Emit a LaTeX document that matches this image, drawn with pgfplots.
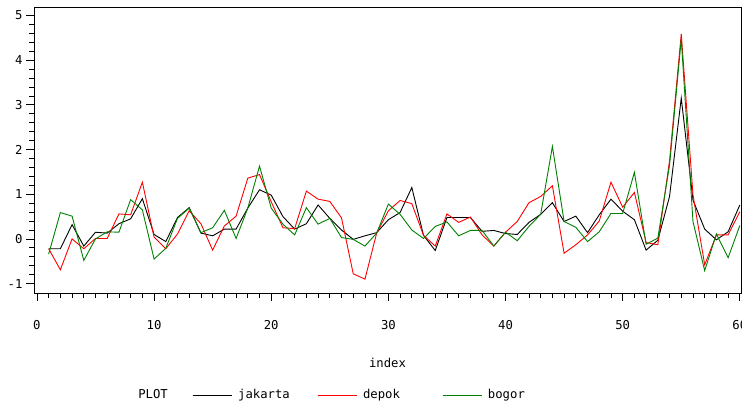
\documentclass[border=0pt]{standalone}
\usepackage{pgfplots}
\pgfplotsset{compat=1.18}
\usepackage{pgfplotstable}
\usepackage{fontspec}
\setmainfont{DejaVu Sans Mono}
\pgfplotstableread{
idx jakarta depok bogor
1 -0.22 -0.22 -0.34
2 -0.22 -0.69 0.59
3 0.32 0.00 0.51
4 -0.16 -0.22 -0.48
5 0.15 0.01 0.00
6 0.13 0.01 0.16
7 0.34 0.56 0.15
8 0.45 0.54 0.88
9 0.90 1.27 0.65
10 0.10 0.04 -0.45
11 -0.06 -0.22 -0.21
12 0.48 0.11 0.46
13 0.70 0.63 0.69
14 0.13 0.34 0.14
15 0.07 -0.25 0.25
16 0.22 0.29 0.64
17 0.22 0.51 0.01
18 0.69 1.36 0.69
19 1.10 1.44 1.63
20 0.98 0.83 0.69
21 0.50 0.25 0.33
22 0.22 0.23 0.09
23 0.34 1.07 0.70
24 0.76 0.89 0.33
25 0.46 0.84 0.46
26 0.20 0.47 0.03
27 -0.01 -0.78 -0.01
28 0.07 -0.90 -0.16
29 0.14 0.13 0.13
30 0.43 0.63 0.78
31 0.59 0.86 0.55
32 1.15 0.79 0.20
33 0.08 0.08 0.01
34 -0.26 -0.16 0.28
35 0.48 0.56 0.38
36 0.48 0.37 0.07
37 0.48 0.49 0.19
38 0.17 0.09 0.19
39 0.19 -0.16 -0.16
40 0.12 0.15 0.15
41 0.10 0.39 -0.04
42 0.37 0.81 0.28
43 0.55 0.95 0.55
44 0.81 1.19 2.07
45 0.39 -0.32 0.39
46 0.51 -0.13 0.26
47 0.14 0.09 -0.06
48 0.54 0.40 0.16
49 0.89 1.27 0.57
50 0.62 0.71 0.57
51 0.43 1.04 1.49
52 -0.25 -0.08 -0.12
53 -0.03 -0.13 0.02
54 0.95 1.75 1.65
55 3.15 4.59 4.47
56 0.87 0.99 0.39
57 0.22 -0.58 -0.71
58 -0.02 0.09 0.11
59 0.16 0.09 -0.42
60 0.76 0.61 0.30
}\datatable
\definecolor{sasgreen}{RGB}{0,128,0}
\begin{document}
\begin{tikzpicture}[font=\fontsize{12.3}{14}\selectfont]
\begin{axis}[
  name=ax,
  scale only axis,
  width=707bp, height=286bp,
  xmin=-0.25, xmax=60.1,
  ymin=-1.21, ymax=5.19,
  axis line style={line width=0.8bp},
  xtick={0,10,...,60},
  minor xtick={0,1,...,60},
  ytick={-1,0,...,5},
  minor ytick={-1,-0.8,...,5},
  tick align=outside,
  xtick pos=bottom, ytick pos=left,
  major tick length=7.5bp, minor tick length=4.5bp,
  tick style={line width=0.8bp, black},
  /pgf/number format/assume math mode=true,
  xticklabel style={anchor=center, yshift=-25bp},
  yticklabel style={anchor=east, xshift=-0.5bp},
  xlabel={index},
  xlabel style={at={(axis description cs:0.5,0)}, anchor=center, yshift=-70bp},
  legend style={draw=none, fill=none, legend columns=-1,
    at={(axis description cs:0.1430,-0.3566)}, anchor=west,
    /tikz/column sep=0pt, nodes={inner sep=0pt}},
  legend image code/.code={\draw[#1] (0bp,0bp) -- (39bp,0bp);},
  every axis plot/.append style={line width=0.9bp},
]
\addlegendimage{empty legend}
\addlegendentry{\makebox[54bp][l]{PLOT}}
\addplot[black] table[x=idx, y=jakarta]{\datatable};
\addlegendentry{\makebox[85bp][l]{\hspace{6bp}jakarta}}
\addplot[red] table[x=idx, y=depok]{\datatable};
\addlegendentry{\makebox[85bp][l]{\hspace{6bp}depok}}
\addplot[sasgreen] table[x=idx, y=bogor]{\datatable};
\addlegendentry{\makebox[46bp][l]{\hspace{6bp}bogor}}
\end{axis}
\pgfresetboundingbox
\useasboundingbox ([xshift=-34bp,yshift=-112bp]ax.south west) rectangle ([xshift=1bp,yshift=7bp]ax.north east);
\end{tikzpicture}
\end{document}
